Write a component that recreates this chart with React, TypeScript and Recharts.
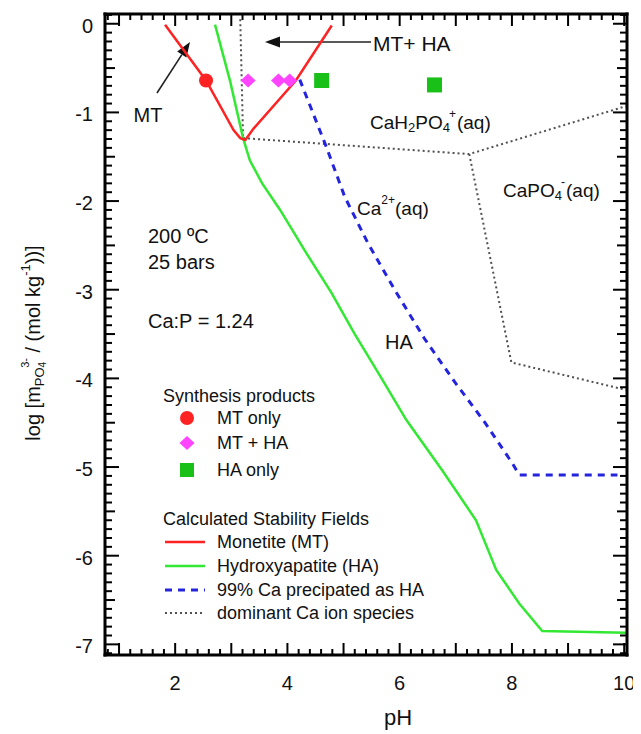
import React from "react";
import { ComposedChart, Line, Scatter, XAxis, YAxis, Customized } from "recharts";

// chart size (plot area: left 97, top 6, right 619, bottom 647)
const W = 633;
const H = 726;

// axis ranges and tick labels
const X_DOMAIN = [0.75, 10.05];
const Y_DOMAIN = [-7.12, 0.11];
const xLabels = [2, 4, 6, 8, 10];
const yLabels = [0, -1, -2, -3, -4, -5, -6, -7];

// minor tick positions (every 0.2 pH, every 0.1 log unit)
const xTicks: number[] = [];
for (let i = 4; i <= 50; i++) xTicks.push(Math.round(i * 2) / 10);
const yTicks: number[] = [];
for (let i = -71; i <= 1; i++) yTicks.push(i / 10);

// Monetite (MT) boundary
const mtPH = [1.82, 2.55, 3.04, 3.16, 3.25, 3.4, 4.15, 4.79];
const mtLog = [-0.01, -0.64, -1.2, -1.29, -1.31, -1.18, -0.64, -0.02];

// Hydroxyapatite (HA) boundary
const haPH = [2.71, 2.98, 3.21, 3.33, 3.55, 3.87, 4.31, 4.78, 5.2, 5.64, 6.12, 6.76, 7.36, 7.72, 8.13, 8.54, 10.03];
const haLog = [-0.01, -0.65, -1.29, -1.54, -1.8, -2.1, -2.56, -3.03, -3.5, -3.96, -4.47, -5.04, -5.6, -6.16, -6.54, -6.85, -6.87];

// 99% Ca precipitated as HA
const pptPH = [4.22, 4.7, 5.02, 5.43, 5.91, 6.44, 6.98, 7.51, 8.01, 8.13, 9.88];
const pptLog = [-0.63, -1.4, -1.95, -2.47, -3.0, -3.55, -4.04, -4.49, -4.96, -5.09, -5.09];

// dominant Ca ion species boundaries
const domAPH = [3.16, 3.21];
const domALog = [0.05, -1.29];
const domBPH = [3.21, 7.24, 10.03];
const domBLog = [-1.29, -1.47, -0.93];
const domCPH = [7.24, 7.99, 10.03];
const domCLog = [-1.47, -3.82, -4.13];

// synthesis products
const mtOnlyPH = [2.55];
const mtOnlyLog = [-0.64];
const mtHaPH = [3.3, 3.84, 4.04];
const mtHaLog = [-0.64, -0.64, -0.64];
const haOnlyPH = [4.61, 6.62];
const haOnlyLog = [-0.64, -0.69];

const zip = (xs: number[], ys: number[]) => xs.map((x, i) => ({ x, y: ys[i] }));

const RED = "#ff2222";
const GREEN = "#33e833";
const BLUE = "#2424dd";
const GREY = "#505050";
const MAGENTA = "#ff44ff";
const SQGREEN = "#18c018";
const FONT = "'Liberation Sans', Arial, Helvetica, sans-serif";

const near = (v: number, step: number) => Math.abs(v / step - Math.round(v / step)) < 1e-6;

function makeXTick(side: "top" | "bottom") {
  return (p: any) => {
    const v = p.payload.value;
    const len = near(v, 1) ? 12 : 6;
    const d = side === "bottom" ? -1 : 1;
    const lab = side === "bottom" && xLabels.some((l) => Math.abs(l - v) < 1e-6);
    return (
      <g>
        <line x1={p.x} y1={p.y} x2={p.x} y2={p.y + d * len} stroke="#000" strokeWidth={2} />
        {lab && (
          <text x={p.x} y={p.y + 28} textAnchor="middle" dominantBaseline="central" fontSize={20} fill="#111" fontFamily={FONT}>
            {v}
          </text>
        )}
      </g>
    );
  };
}

function makeYTick(side: "left" | "right") {
  return (p: any) => {
    const v = p.payload.value;
    const len = near(v, 1) ? 14 : near(v, 0.5) ? 10 : 7;
    const d = side === "left" ? 1 : -1;
    const lab = side === "left" && yLabels.some((l) => Math.abs(l - v) < 1e-6);
    return (
      <g>
        <line x1={p.x} y1={p.y} x2={p.x + d * len} y2={p.y} stroke="#000" strokeWidth={2} />
        {lab && (
          <text x={p.x - 12} y={p.y + 2} textAnchor="end" dominantBaseline="central" fontSize={20} fill="#111" fontFamily={FONT}>
            {v}
          </text>
        )}
      </g>
    );
  };
}

const CircleDot = (p: any) => <circle cx={p.cx} cy={p.cy} r={7} fill={RED} />;
const DiamondDot = (p: any) => (
  <polygon points={`${p.cx},${p.cy - 7} ${p.cx + 7.5},${p.cy} ${p.cx},${p.cy + 7} ${p.cx - 7.5},${p.cy}`} fill={MAGENTA} />
);
const SquareDot = (p: any) => <rect x={p.cx - 7.5} y={p.cy - 7.5} width={15} height={15} fill={SQGREEN} />;

function arrow(x1: number, y1: number, x2: number, y2: number, key: string) {
  const dx = x2 - x1;
  const dy = y2 - y1;
  const L = Math.hypot(dx, dy);
  const ux = dx / L;
  const uy = dy / L;
  const bx = x2 - ux * 15;
  const by = y2 - uy * 15;
  const px = -uy * 5.5;
  const py = ux * 5.5;
  return (
    <g key={key}>
      <line x1={x1} y1={y1} x2={bx} y2={by} stroke="#222" strokeWidth={1.6} />
      <polygon points={`${x2},${y2} ${bx + px},${by + py} ${bx - px},${by - py}`} fill="#111" />
    </g>
  );
}

const Annotations = () => {
  const t = { fontFamily: FONT, fill: "#111" } as const;
  const legendX = 209;
  return (
    <g>
      {arrow(363, 34, 257, 34, "a1")}
      {arrow(149, 85, 182, 34, "a2")}
      <text x={365} y={35} fontSize={21} dominantBaseline="central" {...t}>MT+ HA</text>
      <text x={140} y={107} fontSize={20} textAnchor="middle" dominantBaseline="central" {...t}>MT</text>
      <text x={362} y={114} fontSize={19} dominantBaseline="central" {...t}>
        CaH<tspan dy={5} fontSize={13}>2</tspan>
        <tspan dy={-5}>PO</tspan>
        <tspan dy={5} fontSize={13}>4</tspan>
        <tspan dy={-13} dx={-1} fontSize={12}>+</tspan>
        <tspan dy={8} dx={1}>(aq)</tspan>
      </text>
      <text x={349} y={200} fontSize={19} dominantBaseline="central" {...t}>
        Ca<tspan dy={-8} fontSize={12}>2+</tspan>
        <tspan dy={8}>(aq)</tspan>
      </text>
      <text x={495} y={182} fontSize={19} dominantBaseline="central" {...t}>
        CaPO<tspan dy={5} fontSize={13}>4</tspan>
        <tspan dy={-13} dx={-1} fontSize={12}>-</tspan>
        <tspan dy={8} dx={1}>(aq)</tspan>
      </text>
      <text x={140} y={228} fontSize={20} dominantBaseline="central" {...t}>200 ºC</text>
      <text x={140} y={254} fontSize={20} dominantBaseline="central" {...t}>25 bars</text>
      <text x={140} y={313} fontSize={20} dominantBaseline="central" {...t}>Ca:P = 1.24</text>
      <text x={377} y={334} fontSize={20} dominantBaseline="central" {...t}>HA</text>

      <text x={155} y={388} fontSize={18} dominantBaseline="central" {...t}>Synthesis products</text>
      <circle cx={179} cy={410} r={7} fill={RED} />
      <text x={legendX} y={410} fontSize={18} dominantBaseline="central" {...t}>MT only</text>
      <polygon points="179,428 186.5,435 179,442 171.5,435" fill={MAGENTA} />
      <text x={legendX} y={435} fontSize={18} dominantBaseline="central" {...t}>MT + HA</text>
      <rect x={172} y={455} width={14} height={14} fill={SQGREEN} />
      <text x={legendX} y={462} fontSize={18} dominantBaseline="central" {...t}>HA only</text>

      <text x={155} y={511} fontSize={18} dominantBaseline="central" {...t}>Calculated Stability Fields</text>
      <line x1={157} y1={534} x2={197} y2={534} stroke={RED} strokeWidth={2.5} />
      <text x={legendX} y={534} fontSize={18} dominantBaseline="central" {...t}>Monetite (MT)</text>
      <line x1={157} y1={558} x2={197} y2={558} stroke={GREEN} strokeWidth={2.5} />
      <text x={legendX} y={558} fontSize={18} dominantBaseline="central" {...t}>Hydroxyapatite (HA)</text>
      <line x1={157} y1={582} x2={197} y2={582} stroke={BLUE} strokeWidth={3} strokeDasharray="7 6" />
      <text x={legendX} y={582} fontSize={18} dominantBaseline="central" {...t}>99% Ca precipated as HA</text>
      <line x1={157} y1={605} x2={197} y2={605} stroke={GREY} strokeWidth={2} strokeDasharray="2 3" />
      <text x={legendX} y={605} fontSize={18} dominantBaseline="central" {...t}>dominant Ca ion species</text>

      <text x={390} y={709} fontSize={22} textAnchor="middle" dominantBaseline="central" {...t}>pH</text>
      <text x={25} y={335} fontSize={20} textAnchor="middle" dominantBaseline="central" transform="rotate(-90 25 335)" {...t}>
        log [m<tspan dy={6} fontSize={13}>PO</tspan>
        <tspan dy={3} fontSize={10}>4</tspan>
        <tspan dy={-17} dx={-6} fontSize={11}>3-</tspan>
        <tspan dy={8}> / (mol kg</tspan>
        <tspan dy={-8} fontSize={13}>-1</tspan>
        <tspan dy={8}>))]</tspan>
      </text>
    </g>
  );
};

export default function App() {
  const axisLine = { stroke: "#000", strokeWidth: 3, strokeLinecap: "square" as const };
  const dotted = { stroke: GREY, strokeWidth: 2, strokeDasharray: "2 3" };
  return (
    <div style={{ width: W, height: H, fontFamily: FONT }}>
      <ComposedChart width={W} height={H} margin={{ top: 2, right: 10, left: 37, bottom: 49 }}>
        <XAxis
          xAxisId="b"
          type="number"
          dataKey="x"
          orientation="bottom"
          domain={X_DOMAIN}
          allowDataOverflow
          ticks={xTicks}
          interval={0}
          height={30}
          tickSize={0}
          tickMargin={0}
          tickLine={false}
          axisLine={axisLine}
          tick={makeXTick("bottom")}
        />
        <XAxis
          xAxisId="t"
          type="number"
          dataKey="x"
          orientation="top"
          domain={X_DOMAIN}
          allowDataOverflow
          ticks={xTicks}
          interval={0}
          height={4}
          tickSize={0}
          tickMargin={0}
          tickLine={false}
          axisLine={axisLine}
          tick={makeXTick("top")}
        />
        <YAxis
          yAxisId="l"
          type="number"
          dataKey="y"
          orientation="left"
          domain={Y_DOMAIN}
          allowDataOverflow
          ticks={yTicks}
          interval={0}
          width={60}
          tickSize={0}
          tickMargin={0}
          tickLine={false}
          axisLine={axisLine}
          tick={makeYTick("left")}
        />
        <YAxis
          yAxisId="r"
          type="number"
          dataKey="y"
          orientation="right"
          domain={Y_DOMAIN}
          allowDataOverflow
          ticks={yTicks}
          interval={0}
          width={4}
          tickSize={0}
          tickMargin={0}
          tickLine={false}
          axisLine={axisLine}
          tick={makeYTick("right")}
        />

        <Line xAxisId="b" yAxisId="l" data={zip(domAPH, domALog)} dataKey="y" {...dotted} dot={false} isAnimationActive={false} />
        <Line xAxisId="b" yAxisId="l" data={zip(domBPH, domBLog)} dataKey="y" {...dotted} dot={false} isAnimationActive={false} />
        <Line xAxisId="b" yAxisId="l" data={zip(domCPH, domCLog)} dataKey="y" {...dotted} dot={false} isAnimationActive={false} />
        <Line xAxisId="b" yAxisId="l" data={zip(pptPH, pptLog)} dataKey="y" stroke={BLUE} strokeWidth={3} strokeDasharray="7 6" dot={false} isAnimationActive={false} />
        <Line xAxisId="b" yAxisId="l" data={zip(haPH, haLog)} dataKey="y" stroke={GREEN} strokeWidth={2.5} dot={false} isAnimationActive={false} />
        <Line xAxisId="b" yAxisId="l" data={zip(mtPH, mtLog)} dataKey="y" stroke={RED} strokeWidth={2.5} dot={false} isAnimationActive={false} />

        <Scatter xAxisId="b" yAxisId="l" data={zip(mtOnlyPH, mtOnlyLog)} dataKey="y" shape={CircleDot} isAnimationActive={false} />
        <Scatter xAxisId="b" yAxisId="l" data={zip(mtHaPH, mtHaLog)} dataKey="y" shape={DiamondDot} isAnimationActive={false} />
        <Scatter xAxisId="b" yAxisId="l" data={zip(haOnlyPH, haOnlyLog)} dataKey="y" shape={SquareDot} isAnimationActive={false} />

        <Customized component={Annotations} />
      </ComposedChart>
    </div>
  );
}
